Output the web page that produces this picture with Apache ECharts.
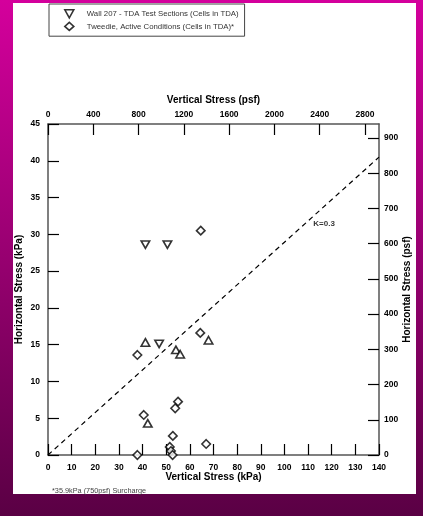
<!DOCTYPE html>
<html>
<head>
<meta charset="utf-8">
<script src="https://cdn.jsdelivr.net/npm/echarts@6/dist/echarts.min.js"></script>
<style>
html,body{margin:0;padding:0;}
#c{width:423px;height:516px;}
</style>
</head>
<body>
<div id="c"></div>
<script>
// Data (kPa)
const wall207Down = [[41.2,28.6],[50.5,28.6],[47.0,15.1]];
const wall207Up = [[41.2,15.3],[54.1,14.3],[55.9,13.7],[67.9,15.6],[42.2,4.3]];
const tweedie = [[64.6,30.5],[37.8,13.6],[64.4,16.6],[55.0,7.25],[53.8,6.35],[40.5,5.44],[52.8,2.6],[66.9,1.5],[51.5,1.1],[52.0,0.54],[52.7,0],[37.8,0]];
const kLine = [[0,0],[140,40.5]];
const kLabel = [[112,31.4]];
const seriesNames = ['Wall 207 - TDA Test Sections (Cells in TDA)','Tweedie, Active Conditions (Cells in TDA)*'];
const PSF_PER_KPA = 20.885;
const X_MAX = 140, Y_MAX = 45;

const downTri = 'path://M0,0L10,0L5,9Z';
const font = 'Liberation Sans, Arial, sans-serif';
const hollow = {color:'#fff', borderColor:'#000', borderWidth:1.6};

const labelStyle = {color:'#000', fontWeight:'bold', fontSize:8.5, fontFamily:font, formatter:(v)=>String(Math.round(v))};
const axisCommon = {
  axisLine:{show:true, onZero:false, lineStyle:{color:'#555', width:1.5}},
  axisTick:{show:true, inside:true, length:11, lineStyle:{color:'#000', width:1.2}},
  splitLine:{show:false},
  nameTextStyle:{color:'#000', fontWeight:'bold', fontSize:10, fontFamily:font},
  nameLocation:'middle',
  nameMoveOverlap:false
};
function ax(o, lab){
  const a = Object.assign({}, axisCommon, o);
  a.axisLabel = Object.assign({}, labelStyle, lab || {});
  return a;
}

const chart = echarts.init(document.getElementById('c'), null, {renderer:'canvas'});
chart.setOption({
  animation:false,
  backgroundColor:{type:'linear', x:0, y:0, x2:0, y2:1, colorStops:[{offset:0,color:'#d4009c'},{offset:1,color:'#5a0044'}]},
  graphic:{elements:[
    {type:'rect', z:-100, shape:{x:13, y:3, width:403, height:491}, style:{fill:'#fff'}}
  ]},
  title:{text:'*35.9kPa (750psf) Surcharge', left:47, top:482,
    textStyle:{fontSize:7.3, fontWeight:'normal', color:'#444', fontFamily:font}},
  legend:{
    orient:'vertical', left:49, top:4, padding:[5,6,5,15], itemGap:3,
    itemWidth:9, itemHeight:8,
    borderColor:'#444', borderWidth:1, backgroundColor:'#fff',
    textStyle:{fontSize:7.8, color:'#333', fontFamily:font, padding:[0,0,0,8]},
    data:[
      {name:seriesNames[0], icon:downTri, itemStyle:hollow},
      {name:seriesNames[1], icon:'diamond', itemStyle:hollow}
    ]
  },
  grid:{left:48, right:44, top:124, bottom:61},
  xAxis:[
    ax({type:'value', position:'bottom', min:0, max:X_MAX, interval:10,
      name:'Vertical Stress (kPa)', nameGap:17}),
    ax({type:'value', position:'top', min:0, max:X_MAX*PSF_PER_KPA, interval:400,
      name:'Vertical Stress (psf)', nameGap:19}, {showMaxLabel:false, margin:5})
  ],
  yAxis:[
    ax({type:'value', position:'left', min:0, max:Y_MAX, interval:5,
      name:'Horizontal Stress (kPa)', nameGap:24}),
    ax({type:'value', position:'right', min:0, max:Y_MAX*PSF_PER_KPA, interval:100,
      name:'Horizontal Stress (psf)', nameGap:23}, {showMaxLabel:false, margin:5})
  ],
  series:[
    {type:'line', data:kLine, xAxisIndex:0, yAxisIndex:0, symbol:'none', silent:true,
      lineStyle:{color:'#000', width:1.2, type:[5,4]}, z:1},
    {type:'scatter', data:kLabel, symbolSize:1, itemStyle:{color:'transparent'},
      label:{show:true, formatter:'K=0.3', position:'right', distance:0, fontSize:8, fontWeight:'bold', color:'#000', fontFamily:font}},
    {name:seriesNames[0], type:'scatter', data:wall207Down, symbol:downTri, symbolSize:[8.5,7.5], itemStyle:hollow, clip:false, z:3},
    {name:'Wall 207 (up)', type:'scatter', data:wall207Up, symbol:'triangle', symbolSize:[8.5,7.5], itemStyle:hollow, clip:false, z:3},
    {name:seriesNames[1], type:'scatter', data:tweedie, symbol:'diamond', symbolSize:[8.5,8.5], itemStyle:hollow, clip:false, z:3}
  ]
});
</script>
</body>
</html>
